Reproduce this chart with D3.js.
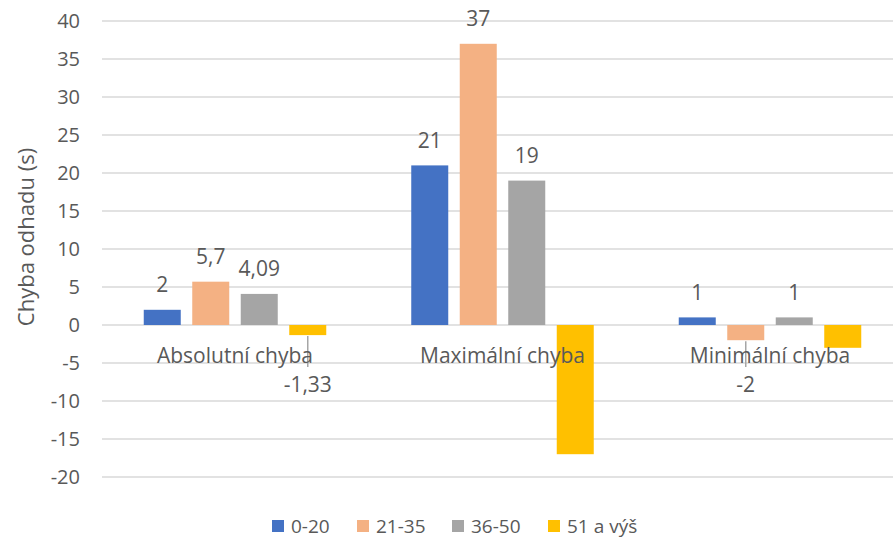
<!DOCTYPE html>
<html>
<head>
<meta charset="utf-8">
<script src="https://cdn.jsdelivr.net/npm/d3@7"></script>
<style>
  body { margin: 0; background: #fff; }
  text { font-family: "Open Sans", sans-serif; fill: #595959; }
</style>
</head>
<body>
<svg id="chart" width="893" height="540"></svg>
<script>
const categories = ["Absolutní chyba", "Maximální chyba", "Minimální chyba"];
const seriesNames = ["0-20", "21-35", "36-50", "51 a výš"];
const values0020 = [2, 21, 1];
const values2135 = [5.7, 37, -2];
const values3650 = [4.09, 19, 1];
const values51 = [-1.33, -17, -3];
// which data labels show (per series, per category)
const labels0020 = [true, true, true];
const labels2135 = [true, true, true];
const labels3650 = [true, true, true];
const labels51 = [true, false, false];
const yTicks = [-20, -15, -10, -5, 0, 5, 10, 15, 20, 25, 30, 35, 40];
const colors = ["#4472C4", "#F4B183", "#A5A5A5", "#FFC000"];

const allValues = [values0020, values2135, values3650, values51];
const allLabels = [labels0020, labels2135, labels3650, labels51];

const loc = d3.formatLocale({decimal: ",", thousands: " ", grouping: [3], currency: ["", " Kč"], minus: "-"});
const fmt = loc.format("~g");

const svg = d3.select("#chart");

const y = d3.scaleLinear().domain([-20, 40]).range([477, 21]);
const x0 = d3.scaleBand().domain(categories).range([101.25, 903.75]);
const step = 48.5, gap = 11.5, outer = 42.5;
const x1 = d3.scaleBand().domain(seriesNames)
  .range([outer, outer + 4 * step - gap]).paddingInner(gap / step);

// gridlines
svg.append("g").selectAll("line").data(yTicks).join("line")
  .attr("x1", 102).attr("x2", 893)
  .attr("y1", d => y(d)).attr("y2", d => y(d))
  .attr("stroke", "#d9d9d9").attr("stroke-width", 1.5);

// y tick labels
svg.append("g").selectAll("text").data(yTicks).join("text")
  .attr("x", 80).attr("y", d => y(d)).attr("dy", "0.36em")
  .attr("text-anchor", "end").attr("font-size", 20)
  .text(d => fmt(d));

// y axis title
svg.append("text")
  .attr("transform", "translate(34,237) rotate(-90)")
  .attr("text-anchor", "middle").attr("font-size", 22)
  .text("Chyba odhadu (s)");

const flat = [];
seriesNames.forEach((s, si) => {
  categories.forEach((c, ci) => {
    flat.push({s, si, c, v: allValues[si][ci], show: allLabels[si][ci]});
  });
});

const bx = d => x0(d.c) + x1(d.s);

// bars
svg.append("g").selectAll("rect").data(flat).join("rect")
  .attr("x", bx)
  .attr("width", x1.bandwidth())
  .attr("y", d => y(Math.max(0, d.v)))
  .attr("height", d => Math.abs(y(d.v) - y(0)))
  .attr("fill", d => colors[d.si]);

const labelled = flat.filter(d => d.show);
const negBase = y(0) + 67;

// leader lines for negative labels
svg.append("g").selectAll("line").data(labelled.filter(d => d.v < 0)).join("line")
  .attr("x1", d => bx(d) + x1.bandwidth() / 2)
  .attr("x2", d => bx(d) + x1.bandwidth() / 2)
  .attr("y1", d => y(d.v) + 1)
  .attr("y2", negBase - 25)
  .attr("stroke", "#a6a6a6").attr("stroke-width", 1.5);

// category labels
svg.append("g").selectAll("text").data(categories).join("text")
  .attr("x", d => x0(d) + x0.bandwidth() / 2)
  .attr("y", y(0) + 38)
  .attr("text-anchor", "middle").attr("font-size", 21)
  .text(d => d);

// data labels
svg.append("g").selectAll("text").data(labelled).join("text")
  .attr("x", d => bx(d) + x1.bandwidth() / 2)
  .attr("y", d => d.v >= 0 ? y(d.v) - 17.5 : negBase)
  .attr("text-anchor", "middle").attr("font-size", 21)
  .text(d => fmt(d.v));

// legend
const legendX = [272, 357, 452, 548];
const lg = svg.append("g").selectAll("g").data(seriesNames).join("g")
  .attr("transform", (d, i) => `translate(${legendX[i]},520)`);
lg.append("rect").attr("width", 12).attr("height", 12).attr("fill", (d, i) => colors[i]);
lg.append("text").attr("x", 19).attr("y", 13).attr("font-size", 19).text(d => d);
</script>
</body>
</html>
